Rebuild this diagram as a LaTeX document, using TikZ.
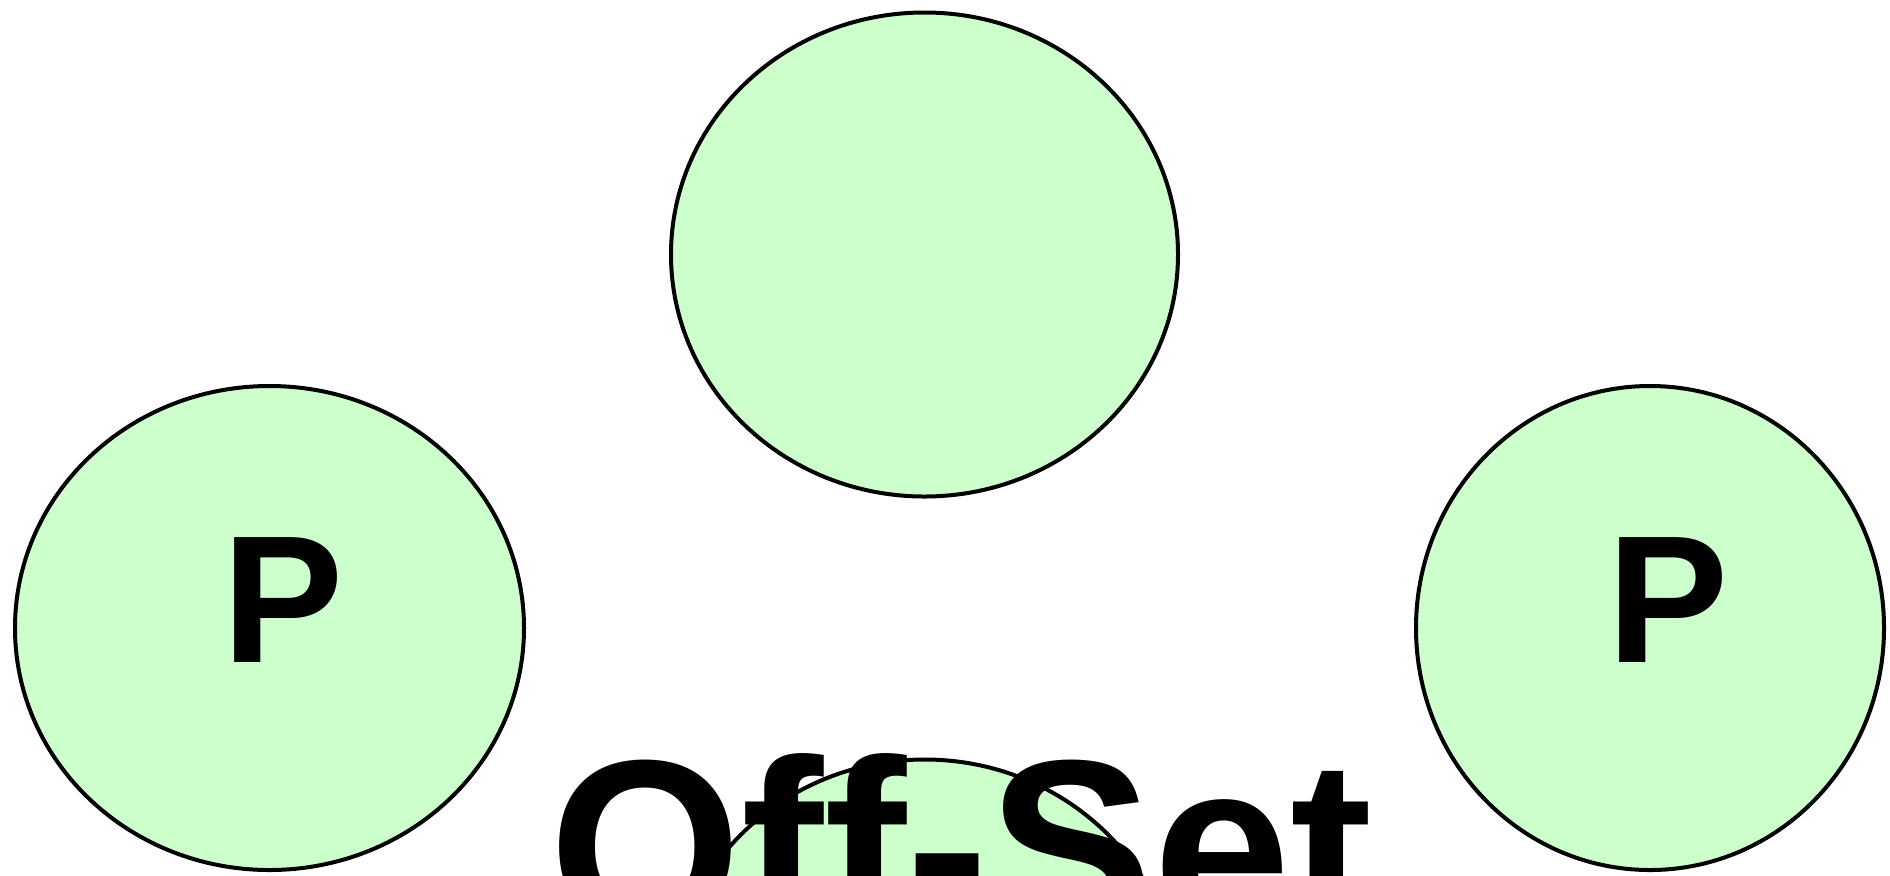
\documentclass[tikz,border=0pt]{standalone}
\usepackage{fontspec}
\setmainfont{Liberation Sans}
\usetikzlibrary{shapes.geometric}
\definecolor{osgreen}{HTML}{CCFFCC}
\tikzset{
  blob/.style={ellipse, draw=black, line width=2pt, fill=osgreen,
    inner sep=0pt, minimum height=242pt},
  plabel/.style={anchor=base west, inner sep=0pt,
    font=\bfseries\fontsize{90.8}{100}\selectfont},
  bigtext/.style={anchor=base west, inner sep=0pt,
    font=\bfseries\fontsize{123.5}{130}\selectfont}
}
\begin{document}
\begin{tikzpicture}[x=0.5pt, y=-0.5pt]
  \useasboundingbox (0,0) rectangle (1890,875);
  \clip (0,0) rectangle (1890,875);
  \node[blob, minimum width=253.5pt] (top) at (924.5,254.5) {};
  \node[blob, minimum width=254.5pt] (left) at (269.5,628) {};
  \node[blob, minimum width=234pt] (right) at (1650,628) {};
  \node[blob, minimum width=253.5pt] (bottom) at (924.5,1001.5) {};

  \node[plabel] (pleft) at (221.7,662) {P};
  \node[plabel] (pright) at (1606.7,662) {P};
  \node[bigtext] (offset) at (549.4,932) {Off-Set};
\end{tikzpicture}
\end{document}
